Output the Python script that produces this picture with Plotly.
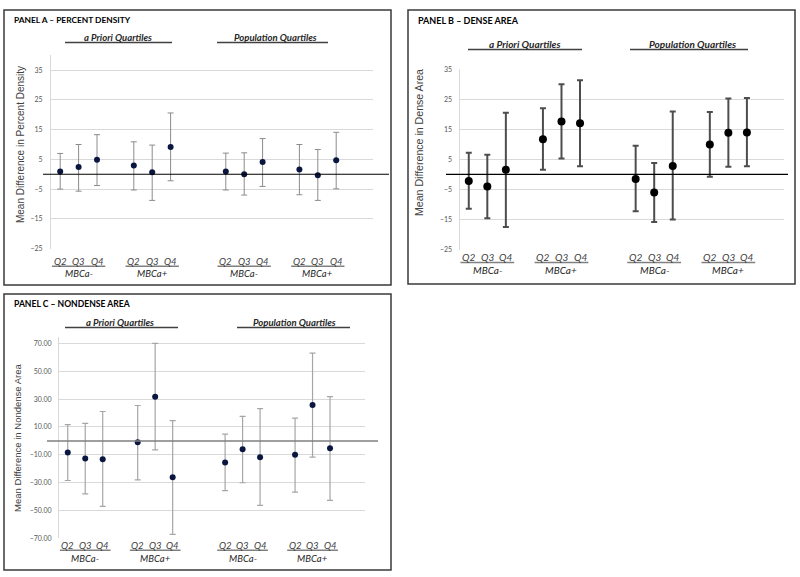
import plotly.graph_objects as go

# ---------------- data ----------------
quartile_labels = ["Q2", "Q3", "Q4"]
mbca_labels = ["MBCa-", "MBCa+"]
group_labels = ["a Priori Quartiles", "Population Quartiles"]

# Panel A - percent density
pd_mean = [0.9, 2.4, 4.9, 2.9, 0.7, 9.2, 0.9, 0.0, 4.1, 1.6, -0.3, 4.7]
pd_low = [-5.0, -5.7, -3.8, -5.3, -8.8, -2.2, -5.3, -7.0, -4.1, -6.9, -8.8, -4.9]
pd_high = [7.0, 10.0, 13.3, 10.9, 9.8, 20.6, 7.1, 7.2, 12.0, 10.0, 8.3, 14.1]

# Panel B - dense area
da_mean = [-2.2, -4.0, 1.5, 11.7, 17.6, 17.0, -1.5, -6.0, 2.8, 9.9, 13.8, 13.9]
da_low = [-11.4, -14.6, -17.5, 1.5, 5.3, 2.7, -12.3, -15.8, -15.0, -0.8, 2.5, 2.7]
da_high = [7.2, 6.5, 20.5, 22.0, 30.0, 31.3, 9.5, 3.8, 20.9, 20.7, 25.2, 25.4]

# Panel C - nondense area
nd_mean = [-8.4, -12.6, -13.1, -1.0, 31.7, -26.0, -15.4, -6.0, -11.7, -10.0, 25.8, -5.3]
nd_low = [-28.4, -38.0, -47.0, -27.9, -6.5, -67.0, -35.7, -30.0, -46.3, -36.8, -11.7, -42.7]
nd_high = [11.7, 12.6, 21.1, 25.4, 70.0, 14.5, 4.8, 17.6, 23.2, 16.4, 63.0, 31.7]

W, H = 800, 577


def px(x):
    return x / W


def py(y):
    return 1 - y / H


# category slots: group g, MBCa m, quartile q
slots = []
for g in range(len(group_labels)):
    for m in range(len(mbca_labels)):
        for q in range(len(quartile_labels)):
            slots.append(1 + g * 9 + m * 4 + q)

panels = [
    dict(name="A", title="PANEL A \u2013 PERCENT DENSITY", ytitle="Mean Difference in Percent Density",
         mean=pd_mean, low=pd_low, high=pd_high,
         box=(4, 5, 391, 284), plot=(51, 51, 373, 247), yrange=[-25, 40],
         ticks=[-25, -15, -5, 5, 15, 25, 35], fmt="d", ticklen=6,
         mcolor="#0b1640", msize=6, ecolor="#8c8c8c", ethick=1, ewidth=3,
         zcolor="#000000", zwidth=1.2, zx=(43, 389),
         title_xy=(12, 15), title_size=8.4,
         ytitle_xy=(20, 142), ytitle_size=10,
         grp_y=33, grp_line_y=38, grp_size=9.5,
         grp_text_x=[118, 275], grp_line=[(65, 172), (217, 328)],
         q_y=260, q_line_y=265, mb_y=272, q_size=9.5),
    dict(name="B", title="PANEL B \u2013 DENSE AREA", ytitle="Mean Difference in Dense Area",
         mean=da_mean, low=da_low, high=da_high,
         box=(408, 5, 795, 283), plot=(459.5, 65, 784, 248), yrange=[-25, 35],
         ticks=[-25, -15, -5, 5, 15, 25, 35], fmt="d", ticklen=5,
         mcolor="#000000", msize=8, ecolor="#4d4d4d", ethick=2, ewidth=3,
         zcolor="#000000", zwidth=1.2, zx=(446, 788),
         title_xy=(416, 16), title_size=9,
         ytitle_xy=(419, 140), ytitle_size=10.6,
         grp_y=40, grp_line_y=45, grp_size=10,
         grp_text_x=[525, 692], grp_line=[(468, 582), (630, 748)],
         q_y=256, q_line_y=261, mb_y=269, q_size=10),
    dict(name="C", title="PANEL C \u2013 NONDENSE AREA", ytitle="Mean Difference in Nondense Area",
         mean=nd_mean, low=nd_low, high=nd_high,
         box=(4, 293, 391, 573), plot=(59, 337, 365, 541), yrange=[-70, 74.3],
         ticks=[-70, -50, -30, -10, 10, 30, 50, 70], fmt=".2f", ticklen=5,
         mcolor="#0b1640", msize=6, ecolor="#a6a6a6", ethick=1.2, ewidth=3,
         zcolor="#7f7f7f", zwidth=1.5, zx=(47, 378),
         title_xy=(12, 303), title_size=8.6,
         ytitle_xy=(18, 439), ytitle_size=9.5,
         grp_y=322, grp_line_y=327, grp_size=9.5,
         grp_text_x=[120, 294], grp_line=[(65, 178), (237, 350)],
         q_y=548, q_line_y=553, mb_y=561, q_size=9.5),
]

fig = go.Figure()
shapes = []
annotations = []
label_font = "Lato, 'Open Sans', sans-serif"

for i, p in enumerate(panels):
    sfx = "" if i == 0 else str(i + 1)
    xa, ya = "x" + sfx, "y" + sfx
    x0p, y0p, x1p, y1p = p["plot"]

    err_plus = [h - m for h, m in zip(p["high"], p["mean"])]
    err_minus = [m - l for m, l in zip(p["mean"], p["low"])]
    fig.add_trace(go.Scatter(
        x=slots, y=p["mean"], mode="markers", xaxis=xa, yaxis=ya,
        marker=dict(color=p["mcolor"], size=p["msize"]),
        error_y=dict(type="data", symmetric=False, array=err_plus, arrayminus=err_minus,
                     color=p["ecolor"], thickness=p["ethick"], width=p["ewidth"]),
        showlegend=False, hoverinfo="skip", cliponaxis=False,
    ))

    fig.update_layout(**{
        ("xaxis" + sfx): dict(domain=[px(x0p), px(x1p)], range=[0.5, 18], showgrid=False,
                              zeroline=False, showline=False, showticklabels=False,
                              anchor=ya, fixedrange=True),
        ("yaxis" + sfx): dict(domain=[py(y1p), py(y0p)], range=p["yrange"], tickvals=p["ticks"],
                              tickformat=p["fmt"], showgrid=True, gridcolor="#d9d9d9", gridwidth=1,
                              zeroline=False, showline=True, linecolor="#d9d9d9", linewidth=1,
                              ticks="outside", ticklen=p["ticklen"], tickcolor="rgba(0,0,0,0)",
                              tickfont=dict(family=label_font, size=7, color="#595959"),
                              anchor=xa, fixedrange=True),
    })

    # panel frame
    bx0, by0, bx1, by1 = p["box"]
    shapes.append(dict(type="rect", xref="paper", yref="paper", x0=px(bx0), x1=px(bx1),
                       y0=py(by1), y1=py(by0), line=dict(color="#3a3a3a", width=1.5)))
    # zero line
    shapes.append(dict(type="line", xref="paper", yref=ya, x0=px(p["zx"][0]), x1=px(p["zx"][1]),
                       y0=0, y1=0, line=dict(color=p["zcolor"], width=p["zwidth"])))

    # panel title
    annotations.append(dict(text="<b>" + p["title"] + "</b>", xref="paper", yref="paper",
                            x=px(p["title_xy"][0]), y=py(p["title_xy"][1]), xanchor="left",
                            yanchor="middle", showarrow=False,
                            font=dict(family=label_font, size=p["title_size"], color="#000000")))
    # y title
    annotations.append(dict(text=p["ytitle"], xref="paper", yref="paper",
                            x=px(p["ytitle_xy"][0]), y=py(p["ytitle_xy"][1]), textangle=-90,
                            xanchor="center", yanchor="middle", showarrow=False,
                            font=dict(family="'Liberation Sans', Arial, sans-serif",
                                      size=p["ytitle_size"], color="#404040")))
    # group headers
    for g, glab in enumerate(group_labels):
        annotations.append(dict(text="<b><i>" + glab + "</i></b>", xref="paper", yref="paper",
                                x=px(p["grp_text_x"][g]), y=py(p["grp_y"]), xanchor="center",
                                yanchor="middle", showarrow=False,
                                font=dict(family=label_font, size=p["grp_size"], color="#262626")))
        lx0, lx1 = p["grp_line"][g]
        shapes.append(dict(type="line", xref="paper", yref="paper", x0=px(lx0), x1=px(lx1),
                           y0=py(p["grp_line_y"]), y1=py(p["grp_line_y"]),
                           line=dict(color="#404040", width=1.5)))
    # category labels
    k = 0
    for g in range(len(group_labels)):
        for m, mlab in enumerate(mbca_labels):
            trio = slots[k:k + 3]
            for q, qlab in enumerate(quartile_labels):
                annotations.append(dict(text="<i>" + qlab + "</i>", xref=xa, yref="paper",
                                        x=trio[q], y=py(p["q_y"]), xanchor="center",
                                        yanchor="middle", showarrow=False,
                                        font=dict(family=label_font, size=p["q_size"], color="#404040")))
            shapes.append(dict(type="line", xref=xa, yref="paper", x0=trio[0] - 0.45,
                               x1=trio[2] + 0.45, y0=py(p["q_line_y"]), y1=py(p["q_line_y"]),
                               line=dict(color="#808080", width=1.5)))
            annotations.append(dict(text="<i>" + mlab + "</i>", xref=xa, yref="paper",
                                    x=trio[1], y=py(p["mb_y"]), xanchor="center",
                                    yanchor="middle", showarrow=False,
                                    font=dict(family=label_font, size=p["q_size"], color="#262626")))
            k += 3

fig.update_layout(width=W, height=H, margin=dict(l=0, r=0, t=0, b=0),
                  paper_bgcolor="white", plot_bgcolor="white",
                  shapes=shapes, annotations=annotations)

fig.write_html("out.html", config={"displayModeBar": False},
               post_script="document.body.style.margin='0';document.body.style.overflow='hidden';")
